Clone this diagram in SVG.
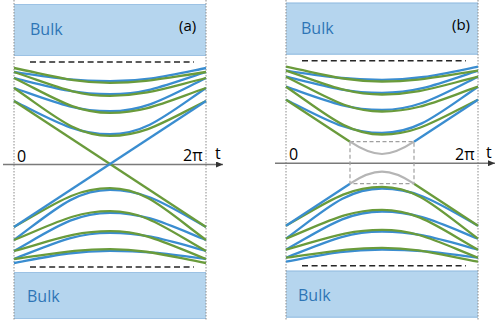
<svg xmlns="http://www.w3.org/2000/svg" xmlns:xlink="http://www.w3.org/1999/xlink" width="498" height="324" viewBox="0 0 498 324">
<style>
.bulk{fill:#b5d5ee}
.bedge{stroke:#9cc2e4;stroke-width:1.2;fill:none}
.border{stroke:#8a8a8a;stroke-width:1;stroke-dasharray:1.5 1.5;fill:none}
.dash{stroke:#262626;stroke-width:1.6;stroke-dasharray:6 3.6;fill:none}
.axis{stroke:#7a7a7a;stroke-width:1.5;fill:none}
.b{stroke:#3a8dd0;stroke-width:2.3;fill:none}
.g{stroke:#6a9b3b;stroke-width:2.3;fill:none}
.gray{stroke:#b5b5b5;stroke-width:2.2;fill:none}
.box{stroke:#a0a0a0;stroke-width:1.2;stroke-dasharray:4 2.5;fill:none}
.lbl{font-family:'Open Sans','Liberation Sans',sans-serif;font-size:16px;fill:#2e75b6}
.ax{font-family:'Open Sans','Liberation Sans',sans-serif;font-size:16px;fill:#000}
.tag{font-family:'Open Sans','Liberation Sans',sans-serif;font-size:15px;fill:#000}
</style>
<defs>
<marker id="arr" markerUnits="userSpaceOnUse" markerWidth="7" markerHeight="6" refX="7" refY="3" orient="auto">
<path d="M0,0 L7,3 L0,6 z" fill="#333"/>
</marker>
<g id="bands">
<!-- upper band, blue -->
<path class="b" d="M14,72 C54,77.8 75,81.2 110,81.2 C145,81.2 166,76.1 206,68"/>
<path class="b" d="M14,78 C54,87.9 75,94.2 110,94.2 C145,94.2 166,85.3 206,72"/>
<path class="b" d="M14,88 C54,101.9 75,111.2 110,111.2 C145,111.2 166,97.7 206,78"/>
<path class="b" d="M14,101 C54,120.7 75,134.2 110,134.2 C145,134.2 166,115.3 206,88"/>
<!-- lower band, blue -->
<path class="b" d="M206,259 C166,253.8 145,250.8 110,250.8 C75,250.8 54,255.5 14,263"/>
<path class="b" d="M206,251 C166,240 145,232.8 110,232.8 C75,232.8 54,243.3 14,259"/>
<path class="b" d="M206,240 C166,223.8 145,212.8 110,212.8 C75,212.8 54,228.4 14,251"/>
<path class="b" d="M206,227 C166,204.5 145,189.8 110,189.8 C75,189.8 54,210.4 14,240"/>
<!-- upper band, green -->
<path class="g" d="M206,72 C166,77.8 145,82.8 110,82.8 C75,82.8 54,76.1 14,68"/>
<path class="g" d="M206,78 C166,87.9 145,95.8 110,95.8 C75,95.8 54,85.3 14,72"/>
<path class="g" d="M206,88 C166,101.9 145,112.8 110,112.8 C75,112.8 54,97.7 14,78"/>
<path class="g" d="M206,101 C166,120.7 145,135.8 110,135.8 C75,135.8 54,115.3 14,88"/>
<!-- lower band, green -->
<path class="g" d="M14,259 C54,253.8 75,249.2 110,249.2 C145,249.2 166,255.5 206,263"/>
<path class="g" d="M14,251 C54,240 75,231.2 110,231.2 C145,231.2 166,243.3 206,259"/>
<path class="g" d="M14,240 C54,223.8 75,211.2 110,211.2 C145,211.2 166,228.4 206,251"/>
<path class="g" d="M14,227 C54,204.5 75,188.2 110,188.2 C145,188.2 166,210.4 206,240"/>
</g>
</defs>

<g id="panel-a">
<g id="bulk-top-a">
<rect class="bulk" x="14" y="4" width="192" height="52"/>
<path class="bedge" d="M14,4.5 H206 M14,55.5 H206"/>
<text class="lbl" x="30" y="35">Bulk</text>
<text class="tag" x="179" y="30.5">(a)</text>
</g>
<g id="bulk-bottom-a">
<rect class="bulk" x="14" y="272" width="192" height="47"/>
<path class="bedge" d="M14,272.5 H206 M14,318.5 H206"/>
<text class="lbl" x="27" y="302">Bulk</text>
</g>
<path class="border" d="M14,0 V321 M206,0 V321"/>
<path class="dash" d="M30,62 H194 M30,267 H194"/>
<g id="axis-a">
<path class="axis" d="M3,164.5 H223" marker-end="url(#arr)"/>
<text class="ax" x="17" y="161.5">0</text>
<text class="ax" x="183" y="161">2π</text>
<text class="ax" x="215" y="159">t</text>
</g>
<g id="connectors-a">
<use xlink:href="#bands"/>
<path class="g" d="M14,101 L206,227"/>
<path class="b" d="M14,227 L206,101"/>
</g>
</g>

<g id="panel-b" transform="translate(272,-1.3)">
<g id="bulk-top-b">
<rect class="bulk" x="14" y="4" width="192" height="52"/>
<path class="bedge" d="M14,4.5 H206 M14,55.5 H206"/>
<text class="lbl" x="29" y="35">Bulk</text>
<text class="tag" x="180" y="31">(b)</text>
</g>
<g id="bulk-bottom-b">
<rect class="bulk" x="14" y="272" width="192" height="47"/>
<path class="bedge" d="M14,272.5 H206 M14,318.5 H206"/>
<text class="lbl" x="26" y="302">Bulk</text>
</g>
<path class="border" d="M14,1.3 V322 M206,1.3 V322"/>
<path class="dash" d="M30,62 H194 M30,267 H194"/>
<g id="axis-b">
<path class="axis" d="M3,164.5 H223" marker-end="url(#arr)"/>
<text class="ax" x="17" y="161">0</text>
<text class="ax" x="183" y="161">2π</text>
<text class="ax" x="214" y="159">t</text>
</g>
<g id="connectors-b">
<use xlink:href="#bands"/>
<path class="g" d="M14,101 L78,143 M142,185 L206,227"/>
<path class="b" d="M14,227 L78,185 M142,143 L206,101"/>
<rect class="box" x="78" y="143" width="64" height="42"/>
<path class="gray" d="M78,143 C90,150.9 100,155.3 110,155.3 C120,155.3 130,150.9 142,143"/>
<path class="gray" d="M78,185 C90,177.1 100,173 110,173 C120,173 130,177.1 142,185"/>
</g>
</g>
</svg>
